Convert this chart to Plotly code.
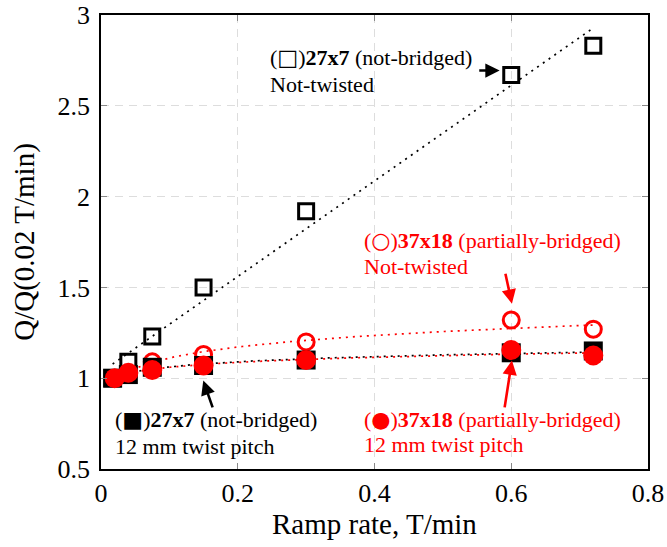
import numpy as np
import plotly.graph_objects as go

# ---- data ----
ramp_27x7 = [0.017, 0.04, 0.075, 0.15, 0.3, 0.6, 0.72]
ramp_37x18 = [0.02, 0.04, 0.075, 0.15, 0.3, 0.6, 0.72]
q_27x7_not_twisted = [1.0, 1.09, 1.23, 1.50, 1.92, 2.67, 2.83]
q_27x7_twisted = [1.0, 1.02, 1.06, 1.07, 1.10, 1.14, 1.15]
q_37x18_not_twisted = [1.0, 1.02, 1.09, 1.13, 1.20, 1.32, 1.27]
q_37x18_twisted = [1.0, 1.03, 1.045, 1.07, 1.10, 1.155, 1.125]

x_ticks = [0, 0.2, 0.4, 0.6, 0.8]
x_ticklabels = ["0", "0.2", "0.4", "0.6", "0.8"]
y_ticks = [0.5, 1, 1.5, 2, 2.5, 3]
y_ticklabels = ["0.5", "1", "1.5", "2", "2.5", "3"]

RED = "#ff0000"
BLACK = "#000000"
FONT = "Liberation Serif"


def linear_trend(xs, ys):
    c = np.polyfit(xs, ys, 1)
    xx = np.linspace(min(xs), max(xs), 100)
    return xx, np.polyval(c, xx)


def power_trend(xs, ys):
    b, lna = np.polyfit(np.log(xs), np.log(ys), 1)
    xx = np.linspace(min(xs), max(xs), 200)
    return xx, np.exp(lna) * xx ** b


fig = go.Figure()

DOT = "2px,5px"
for (xx, yy), col in [
    (linear_trend(ramp_27x7, q_27x7_not_twisted), BLACK),
    (power_trend(ramp_37x18, q_37x18_not_twisted), RED),
    (power_trend(ramp_27x7, q_27x7_twisted), BLACK),
    (power_trend(ramp_37x18, q_37x18_twisted), RED),
]:
    fig.add_trace(go.Scatter(x=xx, y=yy, mode="lines",
                             line=dict(color=col, width=1.7, dash=DOT),
                             hoverinfo="skip"))

# markers
fig.add_trace(go.Scatter(x=ramp_27x7, y=q_27x7_not_twisted, mode="markers",
                         marker=dict(symbol="square-open", size=15, color=BLACK,
                                     line=dict(width=3, color=BLACK))))
fig.add_trace(go.Scatter(x=ramp_37x18, y=q_37x18_not_twisted, mode="markers",
                         marker=dict(symbol="circle-open", size=16, color=RED,
                                     line=dict(width=3, color=RED))))
fig.add_trace(go.Scatter(x=ramp_27x7, y=q_27x7_twisted, mode="markers",
                         marker=dict(symbol="square", size=19, color=BLACK,
                                     line=dict(width=0))))
fig.add_trace(go.Scatter(x=ramp_37x18, y=q_37x18_twisted, mode="markers",
                         marker=dict(symbol="circle", size=20, color=RED,
                                     line=dict(width=0))))

ann = []
TS = 22


def text(x, y, s, col):
    ann.append(dict(x=x, y=y, xref="x", yref="y", text=s, showarrow=False,
                    xanchor="left", yanchor="middle",
                    font=dict(family=FONT, size=TS, color=col)))


def arrow(x, y, ax, ay, col):
    ann.append(dict(x=x, y=y, ax=ax, ay=ay, xref="x", yref="y", axref="x", ayref="y",
                    text="", showarrow=True, arrowhead=2, arrowsize=1.1,
                    arrowwidth=2.6, arrowcolor=col, standoff=0, startstandoff=0))


def sym(ch):
    return ("<span style='font-family:DejaVu Sans;font-weight:bold;font-size:22px'>"
            + ch + "</span>")


text(0.244, 2.766, "(" + sym("□") + ")<b>27x7</b> (not-bridged)", BLACK)
text(0.244, 2.617, "Not-twisted", BLACK)
arrow(0.583, 2.694, 0.551, 2.694, BLACK)

text(0.382, 1.758, "(" + sym("○") + ")<b>37x18</b> (partially-bridged)", RED)
text(0.382, 1.616, "Not-twisted", RED)
arrow(0.601, 1.41, 0.591, 1.584, RED)

text(0.0175, 0.773, "(" + sym("■") + ")<b>27x7</b> (not-bridged)", BLACK)
text(0.0175, 0.625, "12 mm twist pitch", BLACK)
arrow(0.1496, 0.987, 0.164, 0.831, BLACK)

text(0.382, 0.773, "(" + sym("●") + ")<b>37x18</b> (partially-bridged)", RED)
text(0.382, 0.635, "12 mm twist pitch", RED)
arrow(0.601, 1.097, 0.590, 0.831, RED)

# x-axis title placed as a paper annotation to match the reference position
ann.append(dict(x=0.5, y=-0.121, xref="paper", yref="paper", text="Ramp rate, T/min",
                showarrow=False, xanchor="center", yanchor="middle",
                font=dict(family=FONT, size=29, color=BLACK)))

axis_common = dict(
    showline=True, linecolor=BLACK, linewidth=1.8, mirror="ticks",
    ticks="inside", ticklen=6, tickcolor="#888888", tickwidth=1,
    showgrid=True, gridcolor="#dddddd", griddash="8px,6px", gridwidth=1,
    zeroline=False, automargin=False, ticklabeloverflow="allow",
    tickfont=dict(family=FONT, size=26, color=BLACK),
)

fig.update_layout(
    width=667, height=547,
    margin=dict(l=101, r=19, t=15, b=78),
    paper_bgcolor="white", plot_bgcolor="white",
    showlegend=False,
    annotations=ann,
    xaxis=dict(range=[0, 0.8], tickvals=x_ticks, ticktext=x_ticklabels,
               ticklabelstandoff=0, **axis_common),
    yaxis=dict(range=[0.5, 3], tickvals=y_ticks, ticktext=y_ticklabels,
               title=dict(text="Q/Q(0.02 T/min)", standoff=14,
                          font=dict(family=FONT, size=29, color=BLACK)),
               ticklabelstandoff=4, **axis_common),
)

# remove the browser's default 8px page margin so the figure sits at the corner
fig.write_html("out.html", config={"displayModeBar": False},
               post_script="document.body.style.margin='0';")
